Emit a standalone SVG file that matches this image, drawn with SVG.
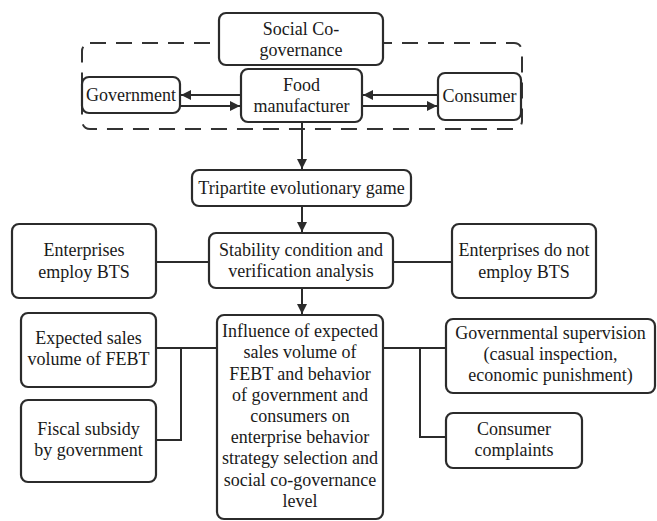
<svg xmlns="http://www.w3.org/2000/svg" width="657" height="521" viewBox="0 0 657 521">
<defs>
<style>
.box{fill:#fff;stroke:#2b2b2b;stroke-width:2.2}
.dash{fill:none;stroke:#333;stroke-width:2;stroke-dasharray:16 10}
.ln{fill:none;stroke:#2b2b2b;stroke-width:2}
text{font-family:Liberation Serif, DejaVu Serif, serif;font-size:18px;fill:#1a1a1a;text-anchor:middle}
</style>
<marker id="ah" viewBox="0 0 10 10" refX="10" refY="5" markerWidth="10" markerHeight="10" markerUnits="userSpaceOnUse" orient="auto">
<path d="M0,0 L10,5 L0,10 Z" fill="#2b2b2b"/>
</marker>
</defs>
<rect width="657" height="521" fill="#fff"/>
<rect id="cogov-frame" class="dash" x="82" y="43" width="440" height="86" rx="8"/>
<g id="connectors">
<line class="ln" x1="241" y1="95" x2="181" y2="95" marker-end="url(#ah)"/>
<line class="ln" x1="180" y1="106" x2="240" y2="106" marker-end="url(#ah)"/>
<line class="ln" x1="438" y1="95" x2="363" y2="95" marker-end="url(#ah)"/>
<line class="ln" x1="362" y1="106" x2="437" y2="106" marker-end="url(#ah)"/>
<line class="ln" x1="302" y1="122" x2="302" y2="169" marker-end="url(#ah)"/>
<line class="ln" x1="302" y1="206" x2="302" y2="232" marker-end="url(#ah)"/>
<line class="ln" x1="302" y1="288" x2="302" y2="314" marker-end="url(#ah)"/>
<line class="ln" x1="156" y1="262" x2="209" y2="262"/>
<line class="ln" x1="393" y1="262" x2="452" y2="262"/>
<polyline class="ln" points="156,348 218,348"/>
<polyline class="ln" points="181,348 181,440 156,440"/>
<polyline class="ln" points="383,348 446,348"/>
<polyline class="ln" points="420,348 420,437 446,437"/>
</g>
<g id="social-cogovernance">
<rect class="box" x="219" y="13" width="164" height="52" rx="7"/>
<text x="301" y="35">Social Co-</text>
<text x="301" y="56">governance</text>
</g>
<g id="government">
<rect class="box" x="82" y="77" width="98" height="36" rx="7"/>
<text x="131" y="101">Government</text>
</g>
<g id="food-manufacturer">
<rect class="box" x="241" y="69" width="121" height="53" rx="7"/>
<text x="301.5" y="91">Food</text>
<text x="301.5" y="112">manufacturer</text>
</g>
<g id="consumer">
<rect class="box" x="438" y="73" width="83" height="47" rx="7"/>
<text x="479.5" y="102">Consumer</text>
</g>
<g id="tripartite">
<rect class="box" x="192" y="170" width="219" height="36" rx="7"/>
<text x="301.5" y="194">Tripartite evolutionary game</text>
</g>
<g id="stability">
<rect class="box" x="209" y="233" width="184" height="55" rx="7"/>
<text x="301" y="256">Stability condition and</text>
<text x="301" y="277">verification analysis</text>
</g>
<g id="employ-bts">
<rect class="box" x="12" y="224" width="144" height="74" rx="7"/>
<text x="84" y="256">Enterprises</text>
<text x="84" y="278">employ BTS</text>
</g>
<g id="not-employ-bts">
<rect class="box" x="452" y="224" width="144" height="74" rx="7"/>
<text x="524" y="256">Enterprises do not</text>
<text x="524" y="278">employ BTS</text>
</g>
<g id="expected-sales">
<rect class="box" x="21" y="313" width="135" height="74" rx="7"/>
<text x="88.5" y="344">Expected sales</text>
<text x="88.5" y="365">volume of FEBT</text>
</g>
<g id="fiscal-subsidy">
<rect class="box" x="21" y="400" width="135" height="82" rx="7"/>
<text x="88.5" y="435">Fiscal subsidy</text>
<text x="88.5" y="456">by government</text>
</g>
<g id="influence">
<rect class="box" x="217" y="315" width="166" height="204" rx="7"/>
<text x="300" y="337">Influence of expected</text>
<text x="300" y="358">sales volume of</text>
<text x="300" y="379.5">FEBT and behavior</text>
<text x="300" y="400.5">of government and</text>
<text x="300" y="422">consumers on</text>
<text x="300" y="443">enterprise behavior</text>
<text x="300" y="464">strategy selection and</text>
<text x="300" y="485.5">social co-governance</text>
<text x="300" y="507">level</text>
</g>
<g id="gov-supervision">
<rect class="box" x="446" y="319" width="209" height="74" rx="7"/>
<text x="550.5" y="339">Governmental supervision</text>
<text x="550.5" y="360">(casual inspection,</text>
<text x="550.5" y="381">economic punishment)</text>
</g>
<g id="consumer-complaints">
<rect class="box" x="446" y="413" width="136" height="55" rx="7"/>
<text x="514" y="435">Consumer</text>
<text x="514" y="456">complaints</text>
</g>
</svg>
